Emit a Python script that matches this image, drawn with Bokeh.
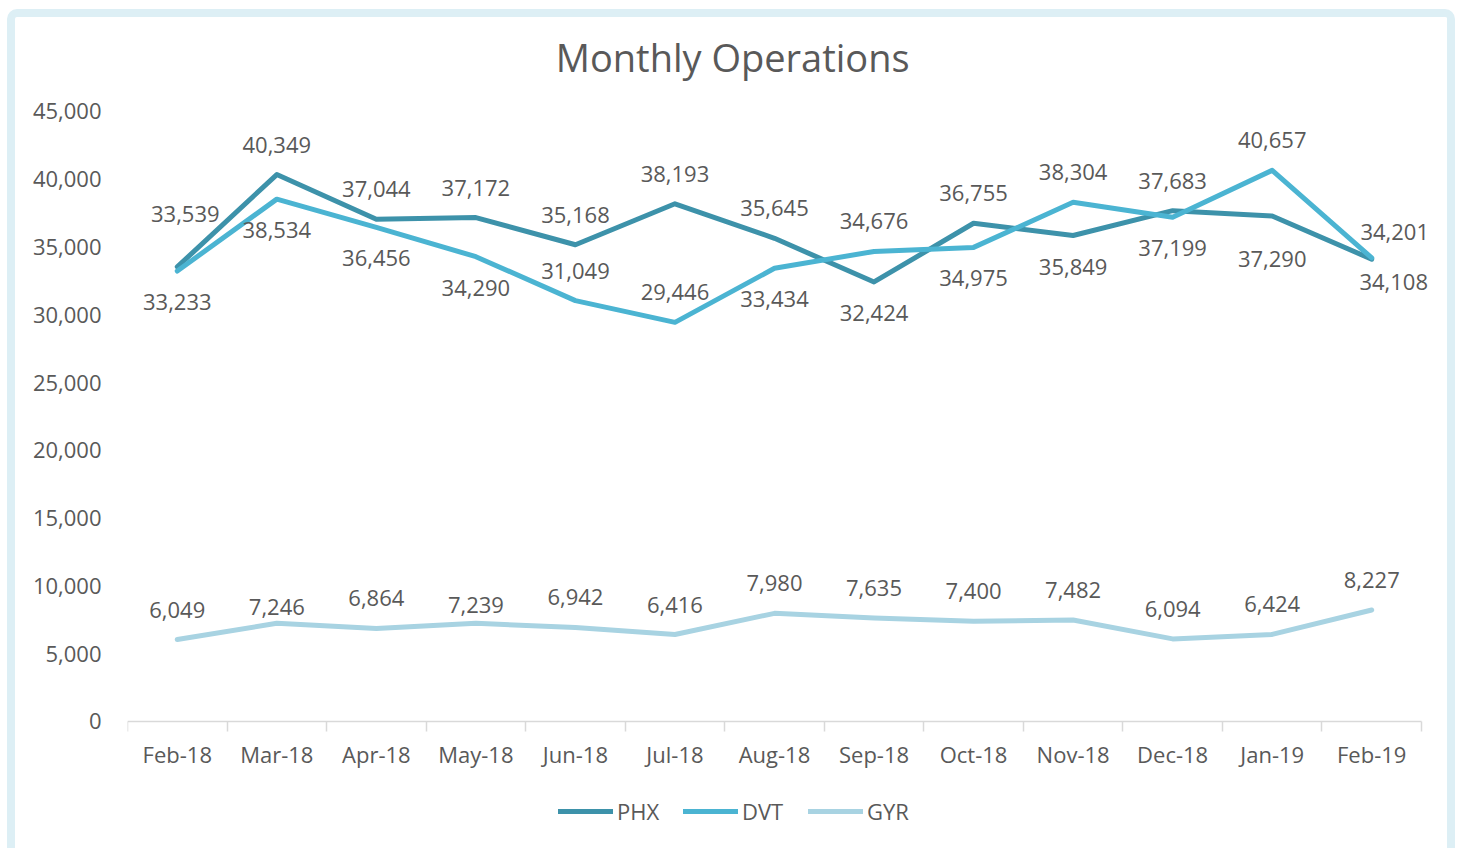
from bokeh.plotting import figure
from bokeh.models import (Range1d, FixedTicker, NumeralTickFormatter,
                          Legend, LegendItem, LabelSet, Label, ColumnDataSource)
from bokeh.embed import file_html
from bokeh.resources import INLINE
from bokeh.core.properties import value

months = ["Feb-18", "Mar-18", "Apr-18", "May-18", "Jun-18", "Jul-18", "Aug-18",
          "Sep-18", "Oct-18", "Nov-18", "Dec-18", "Jan-19", "Feb-19"]
phx = [33539, 40349, 37044, 37172, 35168, 38193, 35645, 32424, 36755, 35849, 37683, 37290, 34108]
dvt = [33233, 38534, 36456, 34290, 31049, 29446, 33434, 34676, 34975, 38304, 37199, 40657, 34201]
gyr = [6049, 7246, 6864, 7239, 6942, 6416, 7980, 7635, 7400, 7482, 6094, 6424, 8227]
y_ticks = [0, 5000, 10000, 15000, 20000, 25000, 30000, 35000, 40000, 45000]
title_text = "Monthly Operations"

# label placement (styling): True = above the point
phx_above = [p_ >= d_ for p_, d_ in zip(phx, dvt)]
dvt_above = [d_ > p_ for p_, d_ in zip(phx, dvt)]
dvt_above[4] = True
dvt_above[5] = True
# small manual label nudges in pixels (styling): (series, index) -> (dx, dy)
nudges = {("PHX", 0): (8, 23), ("PHX", 11): (0, -12), ("PHX", 12): (22, 8),
          ("DVT", 12): (23, -4), ("GYR", 1): (0, -14), ("GYR", 3): (0, -12)}

C_PHX = "#3D92AA"
C_DVT = "#4BB4D2"
C_GYR = "#A8D3E2"
TXT = "#595959"
FONT = "Open Sans"

n = len(months)
xs = [i + 0.5 for i in range(n)]

# the frame spans the whole canvas; value axis 0..45000 sits at 721..111 px
p = figure(width=1448, height=839, x_range=Range1d(0, 13.2613), y_range=Range1d(-9959, 51934),
           output_backend="svg", toolbar_location=None,
           min_border_left=112, min_border_right=16, min_border_top=0, min_border_bottom=0)
p.styles = {"margin-left": "7px", "margin-top": "9px",
            "border": "8px solid #DDEFF5", "border-bottom": "none",
            "border-radius": "10px 10px 0 0"}
p.outline_line_color = None
p.xgrid.visible = False
p.ygrid.visible = False
p.background_fill_color = "white"
p.border_fill_color = "white"

# axes
p.xaxis.fixed_location = 0
p.xaxis.bounds = (0, n)
p.xaxis.ticker = FixedTicker(ticks=xs, minor_ticks=list(range(n + 1)))
p.xaxis.major_label_overrides = {x: m for x, m in zip(xs, months)}
p.xaxis.major_tick_line_color = None
p.xaxis.minor_tick_line_color = "#D9D9D9"
p.xaxis.minor_tick_line_width = 1.5
p.xaxis.minor_tick_out = 10
p.xaxis.minor_tick_in = 0
p.xaxis.axis_line_color = "#D9D9D9"
p.xaxis.axis_line_width = 1.5
p.xaxis.major_label_standoff = 8
p.xaxis.major_label_text_font = FONT
p.xaxis.major_label_text_font_size = "22px"
p.xaxis.major_label_text_color = TXT

p.yaxis.ticker = FixedTicker(ticks=y_ticks)
p.yaxis.formatter = NumeralTickFormatter(format="0,0")
p.yaxis.axis_line_color = None
p.yaxis.major_tick_line_color = None
p.yaxis.minor_tick_line_color = None
p.yaxis.major_label_standoff = 20
p.yaxis.major_label_text_font = FONT
p.yaxis.major_label_text_font_size = "22px"
p.yaxis.major_label_text_color = TXT

r_phx = p.line(xs, phx, line_color=C_PHX, line_width=5, line_cap="round", line_join="round")
r_dvt = p.line(xs, dvt, line_color=C_DVT, line_width=5, line_cap="round", line_join="round")
r_gyr = p.line(xs, gyr, line_color=C_GYR, line_width=5, line_cap="round", line_join="round")

def add_labels(name, vals, above):
    dx = [nudges.get((name, i), (0, 0))[0] for i in range(n)]
    dy = [(30 if above[i] else -31) + nudges.get((name, i), (0, 0))[1] for i in range(n)]
    src = ColumnDataSource(dict(x=xs, y=vals, t=[f"{v:,}" for v in vals], xo=dx, yo=dy))
    p.add_layout(LabelSet(x="x", y="y", text="t", source=src, y_offset="yo", x_offset="xo",
                          text_align="center", text_baseline="middle",
                          text_font=value(FONT), text_font_size="22px", text_color=TXT))

add_labels("PHX", phx, phx_above)
add_labels("DVT", dvt, dvt_above)
add_labels("GYR", gyr, [True] * n)

p.add_layout(Label(x=6.08, y=48984, text=title_text, text_align="center",
                   text_baseline="middle", text_font=FONT, text_font_size="38px",
                   text_color=TXT))

legend = Legend(items=[LegendItem(label="PHX", renderers=[r_phx]),
                       LegendItem(label="DVT", renderers=[r_dvt]),
                       LegendItem(label="GYR", renderers=[r_gyr])],
                orientation="horizontal", location=(431, 30),
                glyph_width=55, glyph_height=20, label_standoff=4, spacing=20,
                label_width=46,
                border_line_color=None, background_fill_alpha=0,
                label_text_font=FONT, label_text_font_size="22px", label_text_color=TXT,
                padding=0, margin=0)
p.add_layout(legend)

open("out.html", "w").write(file_html(p, INLINE))
